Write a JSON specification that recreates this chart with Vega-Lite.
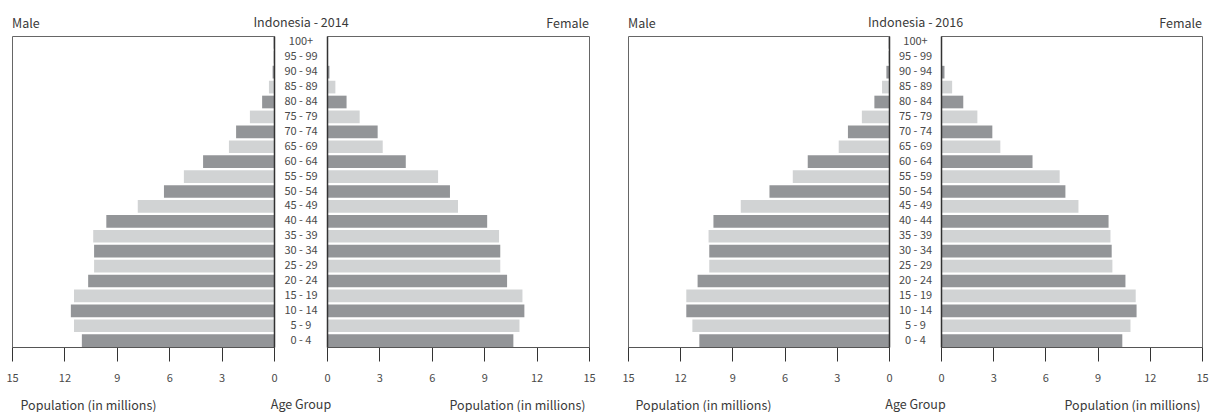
{
  "$schema": "https://vega.github.io/schema/vega-lite/v6.json",
  "padding": {"left": 5, "top": 15, "right": 0, "bottom": 0},
  "spacing": 25,
  "datasets": {
    "pop": [
      {"year": 2014, "age": "0 - 4", "male": 11.0, "female": 10.67},
      {"year": 2014, "age": "5 - 9", "male": 11.45, "female": 11.02},
      {"year": 2014, "age": "10 - 14", "male": 11.63, "female": 11.3},
      {"year": 2014, "age": "15 - 19", "male": 11.45, "female": 11.19},
      {"year": 2014, "age": "20 - 24", "male": 10.64, "female": 10.31},
      {"year": 2014, "age": "25 - 29", "male": 10.3, "female": 9.92},
      {"year": 2014, "age": "30 - 34", "male": 10.3, "female": 9.92},
      {"year": 2014, "age": "35 - 39", "male": 10.35, "female": 9.85},
      {"year": 2014, "age": "40 - 44", "male": 9.6, "female": 9.17},
      {"year": 2014, "age": "45 - 49", "male": 7.8, "female": 7.5},
      {"year": 2014, "age": "50 - 54", "male": 6.3, "female": 7.04},
      {"year": 2014, "age": "55 - 59", "male": 5.16, "female": 6.36},
      {"year": 2014, "age": "60 - 64", "male": 4.06, "female": 4.51},
      {"year": 2014, "age": "65 - 69", "male": 2.58, "female": 3.19},
      {"year": 2014, "age": "70 - 74", "male": 2.17, "female": 2.9},
      {"year": 2014, "age": "75 - 79", "male": 1.38, "female": 1.87},
      {"year": 2014, "age": "80 - 84", "male": 0.68, "female": 1.12},
      {"year": 2014, "age": "85 - 89", "male": 0.29, "female": 0.48},
      {"year": 2014, "age": "90 - 94", "male": 0.08, "female": 0.14},
      {"year": 2014, "age": "95 - 99", "male": 0.03, "female": 0.06},
      {"year": 2014, "age": "100+", "male": 0.02, "female": 0.04},
      {"year": 2016, "age": "0 - 4", "male": 10.9, "female": 10.42},
      {"year": 2016, "age": "5 - 9", "male": 11.3, "female": 10.89},
      {"year": 2016, "age": "10 - 14", "male": 11.65, "female": 11.24},
      {"year": 2016, "age": "15 - 19", "male": 11.65, "female": 11.19},
      {"year": 2016, "age": "20 - 24", "male": 11.0, "female": 10.6},
      {"year": 2016, "age": "25 - 29", "male": 10.33, "female": 9.85},
      {"year": 2016, "age": "30 - 34", "male": 10.33, "female": 9.81},
      {"year": 2016, "age": "35 - 39", "male": 10.37, "female": 9.74},
      {"year": 2016, "age": "40 - 44", "male": 10.09, "female": 9.63},
      {"year": 2016, "age": "45 - 49", "male": 8.52, "female": 7.9},
      {"year": 2016, "age": "50 - 54", "male": 6.87, "female": 7.15},
      {"year": 2016, "age": "55 - 59", "male": 5.53, "female": 6.82},
      {"year": 2016, "age": "60 - 64", "male": 4.67, "female": 5.26},
      {"year": 2016, "age": "65 - 69", "male": 2.89, "female": 3.41},
      {"year": 2016, "age": "70 - 74", "male": 2.36, "female": 2.95},
      {"year": 2016, "age": "75 - 79", "male": 1.56, "female": 2.09},
      {"year": 2016, "age": "80 - 84", "male": 0.84, "female": 1.28},
      {"year": 2016, "age": "85 - 89", "male": 0.4, "female": 0.64},
      {"year": 2016, "age": "90 - 94", "male": 0.15, "female": 0.2},
      {"year": 2016, "age": "95 - 99", "male": 0.04, "female": 0.05},
      {"year": 2016, "age": "100+", "male": 0.02, "female": 0.03}
    ]
  },
  "hconcat": [
    {
      "spacing": 53,
      "bounds": "flush",
      "hconcat": [
        {
          "width": 262, "height": 311,
          "title": {"text": "Male", "anchor": "start", "offset": 5.5},
          "data": {"name": "pop"},
          "transform": [{"filter": "datum.year == 2014"}],
          "mark": {"type": "bar"},
          "encoding": {
            "y": {"field": "age", "type": "nominal",
              "scale": {"domain": ["100+","95 - 99","90 - 94","85 - 89","80 - 84","75 - 79","70 - 74","65 - 69","60 - 64","55 - 59","50 - 54","45 - 49","40 - 44","35 - 39","30 - 34","25 - 29","20 - 24","15 - 19","10 - 14","5 - 9","0 - 4"], "paddingInner": 0.15, "paddingOuter": 0},
              "axis": {"orient": "right", "labels": false, "ticks": false, "tickSize": 0, "domain": true, "domainColor": "#333", "domainWidth": 1.5, "zindex": 1, "title": "Age Group", "titleAngle": 0, "titleX": 26.5, "titleY": 368.5, "titleAlign": "center", "titleBaseline": "middle"}},
            "x": {"field": "male", "type": "quantitative",
              "scale": {"domain": [0, 15], "reverse": true, "nice": false},
              "axis": {"values": [0, 3, 6, 9, 12, 15], "labelFlush": false, "title": "Population (in millions)", "titleX": 8, "titleAlign": "left"}},
            "color": {"field": "age", "type": "nominal",
              "scale": {"domain": ["100+","95 - 99","90 - 94","85 - 89","80 - 84","75 - 79","70 - 74","65 - 69","60 - 64","55 - 59","50 - 54","45 - 49","40 - 44","35 - 39","30 - 34","25 - 29","20 - 24","15 - 19","10 - 14","5 - 9","0 - 4"],
                "range": ["#939598","#d1d3d4","#939598","#d1d3d4","#939598","#d1d3d4","#939598","#d1d3d4","#939598","#d1d3d4","#939598","#d1d3d4","#939598","#d1d3d4","#939598","#d1d3d4","#939598","#d1d3d4","#939598","#d1d3d4","#939598"]},
              "legend": null}
          }
        },
        {
          "width": 262, "height": 311,
          "title": {"text": "Female", "anchor": "end", "offset": -14.5},
          "data": {"name": "pop"},
          "transform": [{"filter": "datum.year == 2014"}],
          "mark": {"type": "bar"},
          "encoding": {
            "y": {"field": "age", "type": "nominal",
              "scale": {"domain": ["100+","95 - 99","90 - 94","85 - 89","80 - 84","75 - 79","70 - 74","65 - 69","60 - 64","55 - 59","50 - 54","45 - 49","40 - 44","35 - 39","30 - 34","25 - 29","20 - 24","15 - 19","10 - 14","5 - 9","0 - 4"], "paddingInner": 0.15, "paddingOuter": 0},
              "axis": {"orient": "left", "labels": true, "labelAlign": "center", "labelBaseline": "middle", "labelPadding": 26.5, "ticks": false, "tickSize": 0, "domain": true, "domainColor": "#333", "domainWidth": 1.5, "zindex": 1, "title": "Indonesia - 2014", "titleAngle": 0, "titleX": -26.5, "titleY": -14, "titleAlign": "center", "titleBaseline": "middle"}},
            "x": {"field": "female", "type": "quantitative",
              "scale": {"domain": [0, 15], "nice": false},
              "axis": {"values": [0, 3, 6, 9, 12, 15], "labelFlush": false, "title": "Population (in millions)", "titleX": 258, "titleAlign": "right"}},
            "color": {"field": "age", "type": "nominal",
              "scale": {"domain": ["100+","95 - 99","90 - 94","85 - 89","80 - 84","75 - 79","70 - 74","65 - 69","60 - 64","55 - 59","50 - 54","45 - 49","40 - 44","35 - 39","30 - 34","25 - 29","20 - 24","15 - 19","10 - 14","5 - 9","0 - 4"],
                "range": ["#939598","#d1d3d4","#939598","#d1d3d4","#939598","#d1d3d4","#939598","#d1d3d4","#939598","#d1d3d4","#939598","#d1d3d4","#939598","#d1d3d4","#939598","#d1d3d4","#939598","#d1d3d4","#939598","#d1d3d4","#939598"]},
              "legend": null}
          }
        }
      ]
    },
    {
      "spacing": 52,
      "bounds": "flush",
      "hconcat": [
        {
          "width": 261, "height": 311,
          "title": {"text": "Male", "anchor": "start", "offset": 5.5},
          "data": {"name": "pop"},
          "transform": [{"filter": "datum.year == 2016"}],
          "mark": {"type": "bar"},
          "encoding": {
            "y": {"field": "age", "type": "nominal",
              "scale": {"domain": ["100+","95 - 99","90 - 94","85 - 89","80 - 84","75 - 79","70 - 74","65 - 69","60 - 64","55 - 59","50 - 54","45 - 49","40 - 44","35 - 39","30 - 34","25 - 29","20 - 24","15 - 19","10 - 14","5 - 9","0 - 4"], "paddingInner": 0.15, "paddingOuter": 0},
              "axis": {"orient": "right", "labels": false, "ticks": false, "tickSize": 0, "domain": true, "domainColor": "#333", "domainWidth": 1.5, "zindex": 1, "title": "Age Group", "titleAngle": 0, "titleX": 26, "titleY": 368.5, "titleAlign": "center", "titleBaseline": "middle"}},
            "x": {"field": "male", "type": "quantitative",
              "scale": {"domain": [0, 15], "reverse": true, "nice": false},
              "axis": {"values": [0, 3, 6, 9, 12, 15], "labelFlush": false, "title": "Population (in millions)", "titleX": 7, "titleAlign": "left"}},
            "color": {"field": "age", "type": "nominal",
              "scale": {"domain": ["100+","95 - 99","90 - 94","85 - 89","80 - 84","75 - 79","70 - 74","65 - 69","60 - 64","55 - 59","50 - 54","45 - 49","40 - 44","35 - 39","30 - 34","25 - 29","20 - 24","15 - 19","10 - 14","5 - 9","0 - 4"],
                "range": ["#939598","#d1d3d4","#939598","#d1d3d4","#939598","#d1d3d4","#939598","#d1d3d4","#939598","#d1d3d4","#939598","#d1d3d4","#939598","#d1d3d4","#939598","#d1d3d4","#939598","#d1d3d4","#939598","#d1d3d4","#939598"]},
              "legend": null}
          }
        },
        {
          "width": 261, "height": 311,
          "title": {"text": "Female", "anchor": "end", "offset": -14.5},
          "data": {"name": "pop"},
          "transform": [{"filter": "datum.year == 2016"}],
          "mark": {"type": "bar"},
          "encoding": {
            "y": {"field": "age", "type": "nominal",
              "scale": {"domain": ["100+","95 - 99","90 - 94","85 - 89","80 - 84","75 - 79","70 - 74","65 - 69","60 - 64","55 - 59","50 - 54","45 - 49","40 - 44","35 - 39","30 - 34","25 - 29","20 - 24","15 - 19","10 - 14","5 - 9","0 - 4"], "paddingInner": 0.15, "paddingOuter": 0},
              "axis": {"orient": "left", "labels": true, "labelAlign": "center", "labelBaseline": "middle", "labelPadding": 26, "ticks": false, "tickSize": 0, "domain": true, "domainColor": "#333", "domainWidth": 1.5, "zindex": 1, "title": "Indonesia - 2016", "titleAngle": 0, "titleX": -26, "titleY": -14, "titleAlign": "center", "titleBaseline": "middle"}},
            "x": {"field": "female", "type": "quantitative",
              "scale": {"domain": [0, 15], "nice": false},
              "axis": {"values": [0, 3, 6, 9, 12, 15], "labelFlush": false, "title": "Population (in millions)", "titleX": 259, "titleAlign": "right"}},
            "color": {"field": "age", "type": "nominal",
              "scale": {"domain": ["100+","95 - 99","90 - 94","85 - 89","80 - 84","75 - 79","70 - 74","65 - 69","60 - 64","55 - 59","50 - 54","45 - 49","40 - 44","35 - 39","30 - 34","25 - 29","20 - 24","15 - 19","10 - 14","5 - 9","0 - 4"],
                "range": ["#939598","#d1d3d4","#939598","#d1d3d4","#939598","#d1d3d4","#939598","#d1d3d4","#939598","#d1d3d4","#939598","#d1d3d4","#939598","#d1d3d4","#939598","#d1d3d4","#939598","#d1d3d4","#939598","#d1d3d4","#939598"]},
              "legend": null}
          }
        }
      ]
    }
  ],
  "config": {
    "font": "Noto Sans CJK KR",
    "view": {"stroke": "#666", "strokeWidth": 1},
    "axis": {"grid": false, "labelFont": "Noto Sans CJK KR", "labelFontSize": 11, "labelColor": "#4a4a4a", "titleFont": "Noto Sans CJK KR", "titleFontSize": 12.5, "titleFontWeight": "normal", "titleColor": "#3a3a3a", "domainColor": "#555", "tickColor": "#333", "tickSize": 14, "labelPadding": 11, "titlePadding": 16},
    "title": {"font": "Noto Sans CJK KR", "fontSize": 12.5, "fontWeight": "normal", "color": "#3a3a3a", "frame": "group"}
  }
}
